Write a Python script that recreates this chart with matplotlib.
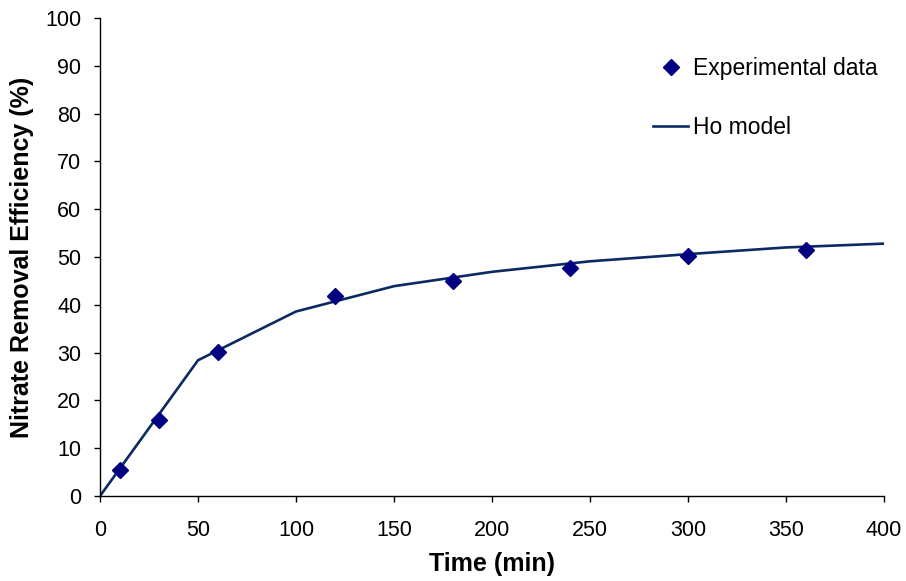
import matplotlib
matplotlib.use("Agg")
import matplotlib.pyplot as plt

# Experimental nitrate removal data
time_exp = [10, 30, 60, 120, 180, 240, 300, 360]
removal_exp = [5.4, 15.9, 30.1, 41.8, 44.9, 47.8, 50.2, 51.4]

# Ho (pseudo-second-order) model curve
time_model = [0, 50, 100, 150, 200, 250, 300, 350, 400]
removal_model = [0, 28.4, 38.6, 43.9, 46.9, 49.1, 50.6, 52.0, 52.8]

x_ticks = [0, 50, 100, 150, 200, 250, 300, 350, 400]
y_ticks = [0, 10, 20, 30, 40, 50, 60, 70, 80, 90, 100]

plt.rcParams['font.family'] = ['Liberation Sans', 'DejaVu Sans']

fig = plt.figure(figsize=(9.06, 5.81), dpi=100)
ax = fig.add_axes([0.1104, 0.1463, 0.8653, 0.8227])

marker_color = '#000080'
line_color = '#0b2a63'

ax.plot(time_exp, removal_exp, linestyle='none', marker='D', ms=8.5,
        color=marker_color, label='Experimental data', zorder=3)
ax.plot(time_model, removal_model, color=line_color, lw=1.9,
        label='Ho model', zorder=2)

ax.set_xlim(0, 400)
ax.set_ylim(0, 100)
ax.set_xticks(x_ticks)
ax.set_yticks(y_ticks)
ax.tick_params(direction='out', length=4.5, width=1, labelsize=15.5)
ax.tick_params(axis='x', pad=13)
ax.tick_params(axis='y', pad=9)

for side in ('top', 'right'):
    ax.spines[side].set_visible(False)
for side in ('left', 'bottom'):
    ax.spines[side].set_linewidth(1)

ax.set_xlabel('Time (min)', fontsize=18, fontweight='bold', labelpad=8)
ax.set_ylabel('Nitrate Removal Efficiency (%)', fontsize=18,
              fontweight='bold', labelpad=8)

ax.legend(loc='upper left', bbox_to_anchor=(0.7054, 0.918), frameon=False,
          fontsize=16.5, labelspacing=1.55, handlelength=1.53,
          handletextpad=0.22, borderpad=0, borderaxespad=0)

fig.savefig('out.png', dpi=100)
